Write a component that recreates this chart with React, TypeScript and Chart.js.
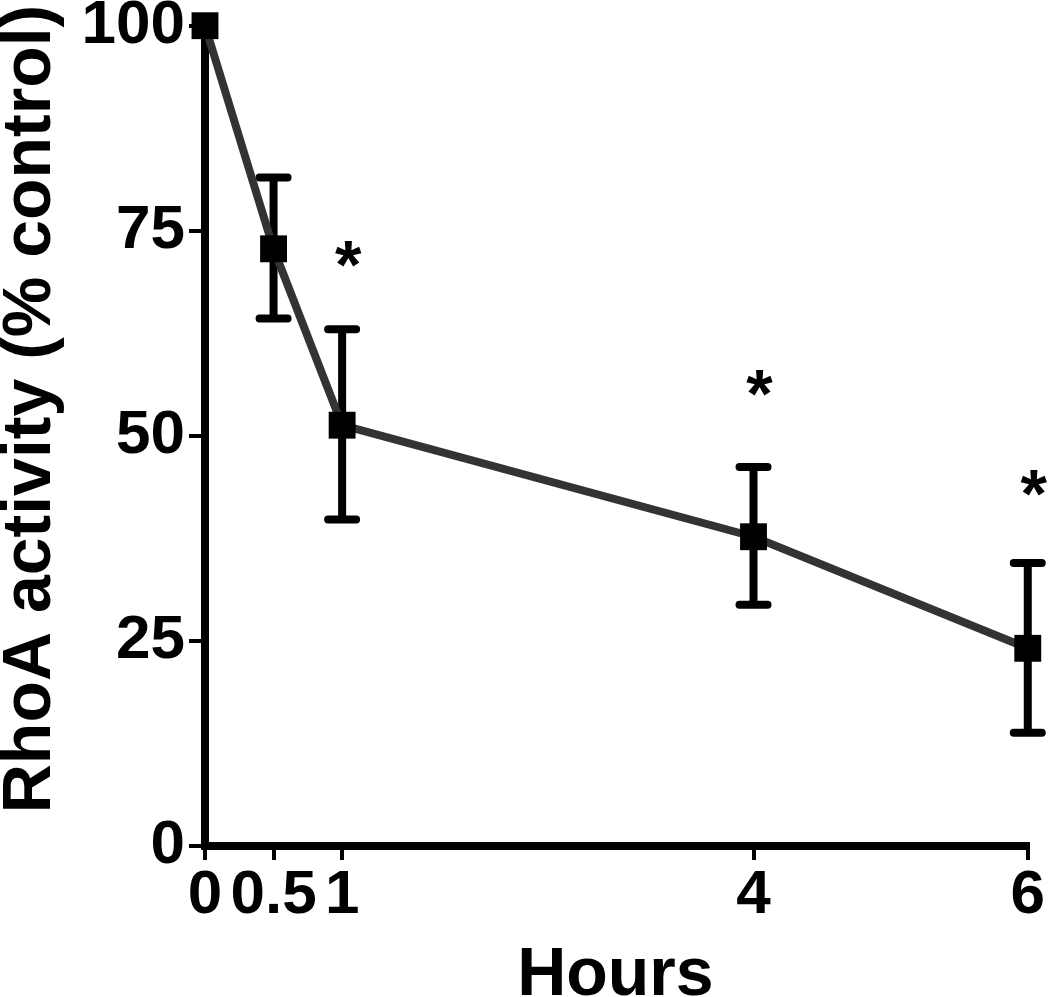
import { useEffect, useRef } from 'react';
import { Chart, registerables } from 'chart.js';

Chart.register(...registerables);

// ---- data ----
const hours = [0, 0.5, 1, 4, 6];
const rhoaActivity = [100, 72.8, 51.3, 37.7, 24.1];
const errorUpper: (number | null)[] = [null, 81.5, 63.0, 46.2, 34.5];
const errorLower: (number | null)[] = [null, 64.3, 39.8, 29.4, 13.8];
const xTickValues = [0, 0.5, 1, 4, 6];
const xTickLabels = ['0', '0.5', '1', '4', '6'];
const yTickValues = [0, 25, 50, 75, 100];
const yTickLabels = ['0', '25', '50', '75', '100'];
const significantHours = [1, 4, 6];
const asteriskLevels = [72.2, 56.5, 44.2];
const xTitle = 'Hours';
const yTitle = 'RhoA activity (% control)';

const FAMILY = '"Liberation Sans", Arial, Helvetica, sans-serif';

const errorBarPlugin = {
  id: 'errorBars',
  beforeDatasetsDraw(chart: any) {
    const { ctx } = chart;
    const x = chart.scales.x;
    const y = chart.scales.y;
    ctx.save();
    ctx.strokeStyle = '#000';
    ctx.lineWidth = 8;
    ctx.lineCap = 'round';
    hours.forEach((h, i) => {
      const hi = errorUpper[i];
      const lo = errorLower[i];
      if (hi == null || lo == null) return;
      const px = x.getPixelForValue(h);
      const pt = y.getPixelForValue(hi);
      const pb = y.getPixelForValue(lo);
      ctx.beginPath();
      ctx.moveTo(px, pt);
      ctx.lineTo(px, pb);
      ctx.moveTo(px - 14, pt);
      ctx.lineTo(px + 14, pt);
      ctx.moveTo(px - 14, pb);
      ctx.lineTo(px + 14, pb);
      ctx.stroke();
    });
    ctx.restore();
  },
};

const annotationPlugin = {
  id: 'annotations',
  afterDraw(chart: any) {
    const { ctx, chartArea } = chart;
    const x = chart.scales.x;
    const y = chart.scales.y;
    ctx.save();
    ctx.fillStyle = '#000';
    // asterisks
    ctx.font = `bold 68px ${FAMILY}`;
    ctx.textAlign = 'center';
    ctx.textBaseline = 'alphabetic';
    const m = ctx.measureText('*');
    const asc = m.actualBoundingBoxAscent;
    const desc = m.actualBoundingBoxDescent;
    significantHours.forEach((h, i) => {
      const cx = x.getPixelForValue(h) + 6;
      const cy = y.getPixelForValue(asteriskLevels[i]);
      ctx.fillText('*', cx, cy + (asc - desc) / 2);
    });
    // x title
    ctx.font = `bold 68px ${FAMILY}`;
    ctx.textAlign = 'center';
    ctx.textBaseline = 'alphabetic';
    ctx.fillText(xTitle, (chartArea.left + chartArea.right) / 2 - 1, 995);
    // y title
    ctx.translate(50, 409);
    ctx.rotate(-Math.PI / 2);
    ctx.fillText(yTitle, 0, 0);
    ctx.restore();
  },
};

export default function App() {
  const canvasRef = useRef<HTMLCanvasElement | null>(null);

  useEffect(() => {
    if (!canvasRef.current) return;
    const tickFont = { family: FAMILY, size: 62, weight: 'bold' as const };
    const chart = new Chart(canvasRef.current, {
      type: 'line',
      data: {
        datasets: [
          {
            data: hours.map((h, i) => ({ x: h, y: rhoaActivity[i] })),
            borderColor: '#333333',
            borderWidth: 8,
            tension: 0,
            pointStyle: 'rect',
            pointRadius: 19,
            pointBackgroundColor: '#000',
            pointBorderWidth: 0,
            clip: false as any,
          },
        ],
      },
      options: {
        responsive: false,
        animation: false,
        devicePixelRatio: 1,
        layout: { padding: { top: 25, right: 22, left: 0, bottom: 0 } },
        plugins: {
          legend: { display: false },
          tooltip: { enabled: false },
        },
        scales: {
          x: {
            type: 'linear',
            min: 0,
            max: 6,
            afterBuildTicks: (s: any) => {
              s.ticks = xTickValues.map((v) => ({ value: v }));
            },
            afterFit: (s: any) => {
              s.height = 151;
            },
            ticks: {
              autoSkip: false,
              maxRotation: 0,
              minRotation: 0,
              padding: 5,
              color: '#000',
              font: { ...tickFont, lineHeight: 1 },
              callback: (_v: any, i: number) => xTickLabels[i],
            },
            grid: {
              drawOnChartArea: false,
              tickLength: 14,
              lineWidth: 4,
              color: '#000',
            },
            border: { display: true, width: 8, color: '#000' },
          },
          y: {
            type: 'linear',
            min: 0,
            max: 100,
            afterBuildTicks: (s: any) => {
              s.ticks = yTickValues.map((v) => ({ value: v }));
            },
            afterFit: (s: any) => {
              s.width = 205;
            },
            ticks: {
              autoSkip: false,
              padding: 4,
              color: '#000',
              font: { ...tickFont, lineHeight: 0.7 },
              callback: (_v: any, i: number) => yTickLabels[i],
            },
            grid: {
              drawOnChartArea: false,
              tickLength: 16,
              lineWidth: 4,
              color: '#000',
            },
            border: { display: true, width: 8, color: '#000' },
          },
        },
      },
      plugins: [errorBarPlugin, annotationPlugin],
    });
    return () => chart.destroy();
  }, []);

  return (
    <div style={{ position: 'absolute', left: 0, top: 0, width: 1050, height: 997, background: '#fff' }}>
      <canvas ref={canvasRef} width={1050} height={997} />
    </div>
  );
}
